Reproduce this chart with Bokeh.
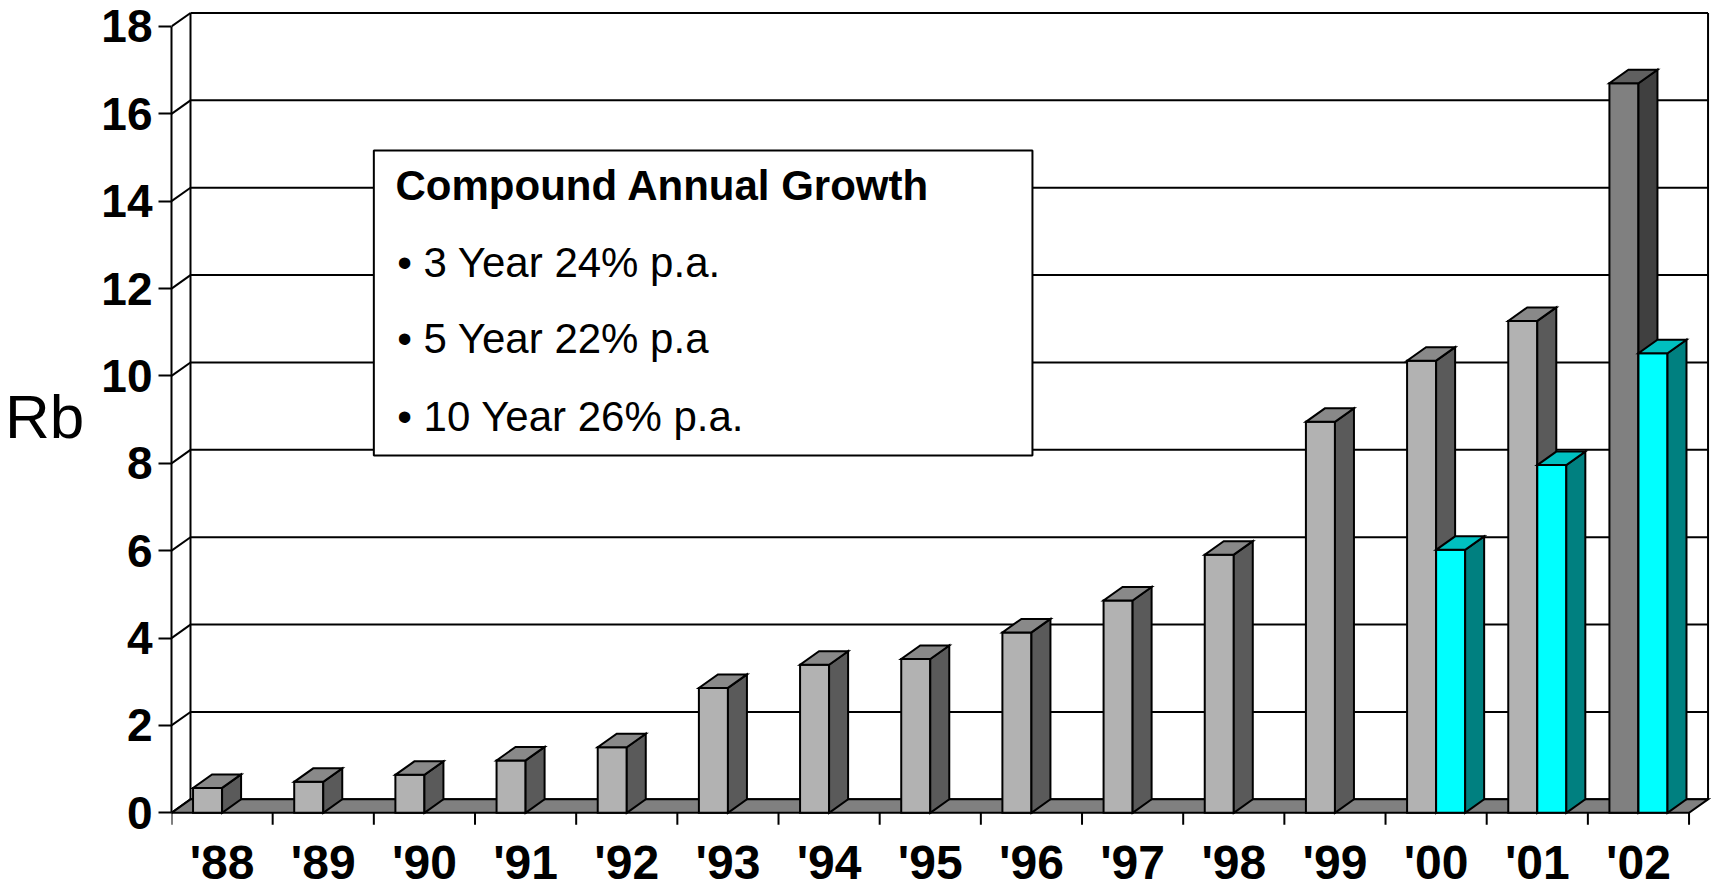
from bokeh.plotting import figure
from bokeh.models import FixedTicker, ColumnDataSource, Range1d, LinearAxis
from bokeh.core.properties import value
from bokeh.embed import file_html
from bokeh.resources import INLINE

# ---------------- data ----------------
years = ["'88", "'89", "'90", "'91", "'92", "'93", "'94", "'95",
         "'96", "'97", "'98", "'99", "'00", "'01", "'02"]
grey_values = [0.57, 0.71, 0.87, 1.20, 1.50, 2.86, 3.39, 3.52,
               4.13, 4.86, 5.91, 8.95, 10.35, 11.26, 16.70]
cyan_values = [None, None, None, None, None, None, None, None,
               None, None, None, None, 6.02, 7.96, 10.52]
y_ticks = [0, 2, 4, 6, 8, 10, 12, 14, 16, 18]
box_title = "Compound Annual Growth"
box_lines = ["\u2022 3 Year 24% p.a.", "\u2022 5 Year 22% p.a", "\u2022 10 Year 26% p.a."]
y_label = "Rb"

# ---------------- style / geometry ----------------
FONT = "Liberation Sans"
N = len(years)
YMAX = 18
BW = 0.287          # bar width (category units)
DX = 0.1878         # depth offset x (category units)
DY = 0.309          # depth offset y (value units)
LW = 2
HIGHLIGHT = 14      # darker grey bar ('02)
PX_PER_UNIT_Y = 43.74

GREY = dict(front="#b2b2b2", side="#5a5a5a", top="#898989")
GREY_DARK = dict(front="#808080", side="#404040", top="#606060")
CYAN = dict(front="#00ffff", side="#008080", top="#00c0c0")
FLOOR = "#808080"

p = figure(width=1711, height=891, output_backend="svg", toolbar_location=None,
           x_range=Range1d(0, 15.222), y_range=Range1d(-0.450, 18.594),
           x_axis_location=None, y_axis_location="left",
           min_border_left=171, min_border_right=0, min_border_top=0, min_border_bottom=58)
p.outline_line_color = None
p.xgrid.visible = False
p.ygrid.visible = False
p.background_fill_color = "white"

# y axis (front)
ya = p.yaxis[0]
ya.ticker = FixedTicker(ticks=y_ticks)
ya.bounds = (0, YMAX)
ya.axis_line_width = LW
ya.axis_line_color = "black"
ya.major_tick_line_width = LW
ya.major_tick_out = 13
ya.major_tick_in = 0
ya.minor_tick_out = 0
ya.minor_tick_in = 0
ya.major_label_text_font = FONT
ya.major_label_text_font_style = "bold"
ya.major_label_text_font_size = "46px"
ya.major_label_text_color = "black"
ya.major_label_standoff = 6
ya.axis_label = y_label
ya.axis_label_orientation = "horizontal"
ya.axis_label_text_font = FONT
ya.axis_label_text_font_style = "normal"
ya.axis_label_text_font_size = "62px"
ya.axis_label_text_color = "black"
ya.axis_label_standoff = 14

# x axis: labels only, at category centres
centres = [i + 0.5 for i in range(N)]
xa = LinearAxis(ticker=FixedTicker(ticks=centres),
                major_label_overrides={c: t for c, t in zip(centres, years)})
xa.axis_line_color = None
xa.major_tick_line_color = None
xa.minor_tick_line_color = None
xa.major_tick_out = 0
xa.major_tick_in = 0
xa.minor_tick_out = 0
xa.minor_tick_in = 0
xa.major_label_standoff = 3
xa.major_label_text_font = FONT
xa.major_label_text_font_style = "bold"
xa.major_label_text_font_size = "48px"
xa.major_label_text_color = "black"
p.add_layout(xa, "below")

# back wall gridlines
gx0 = [DX] * len(y_ticks)
gx1 = [N + DX] * len(y_ticks)
gy = [t + DY for t in y_ticks]
p.segment(x0=gx0, y0=gy, x1=gx1, y1=gy, line_color="black", line_width=LW)
# left wall: diagonals from front axis ticks to back wall
p.segment(x0=[0] * len(y_ticks), y0=y_ticks, x1=[DX] * len(y_ticks), y1=gy,
          line_color="black", line_width=LW)
# back wall left & right verticals
p.segment(x0=[DX, N + DX], y0=[DY, DY], x1=[DX, N + DX], y1=[YMAX + DY, YMAX + DY],
          line_color="black", line_width=LW)

# floor
p.patch(x=[0, N, N + DX, DX], y=[0, 0, DY, DY], fill_color=FLOOR,
        line_color="black", line_width=LW, line_join="miter")

# x ticks (category boundaries)
bx = list(range(N + 1))
p.segment(x0=bx, y0=[0] * len(bx), x1=bx, y1=[-12 / PX_PER_UNIT_Y] * len(bx),
          line_color="black", line_width=LW)

# 3D bars
xs, ys, fc = [], [], []


def add_bar(x0, v, col):
    x1 = x0 + BW
    xs.append([x0, x1, x1, x0]); ys.append([0, 0, v, v]); fc.append(col["front"])
    xs.append([x1, x1 + DX, x1 + DX, x1]); ys.append([0, DY, v + DY, v]); fc.append(col["side"])
    xs.append([x0, x1, x1 + DX, x0 + DX]); ys.append([v, v, v + DY, v + DY]); fc.append(col["top"])


for i in range(N):
    c = i + 0.5
    g = GREY_DARK if i == HIGHLIGHT else GREY
    add_bar(c - BW, grey_values[i], g)
    if cyan_values[i] is not None:
        add_bar(c, cyan_values[i], CYAN)

src = ColumnDataSource(dict(xs=xs, ys=ys, fc=fc))
p.patches(xs="xs", ys="ys", fill_color="fc", line_color="black", line_width=LW,
          line_join="miter", source=src)

# text box
p.quad(left=[2.0], right=[8.51], top=[15.16], bottom=[8.18], fill_color="white",
       line_color="black", line_width=LW)
p.text(x=[2.214], y=[14.355], text=[box_title], text_font=value(FONT),
       text_font_style="bold", text_font_size="42px", text_align="left",
       text_baseline="middle", text_color="black")
p.text(x=[2.231] * 3, y=[12.602, 10.851, 9.081], text=box_lines, text_font=value(FONT),
       text_font_size="42px", text_align="left", text_baseline="middle",
       text_color="black")

open("out.html", "w").write(file_html(p, INLINE))
